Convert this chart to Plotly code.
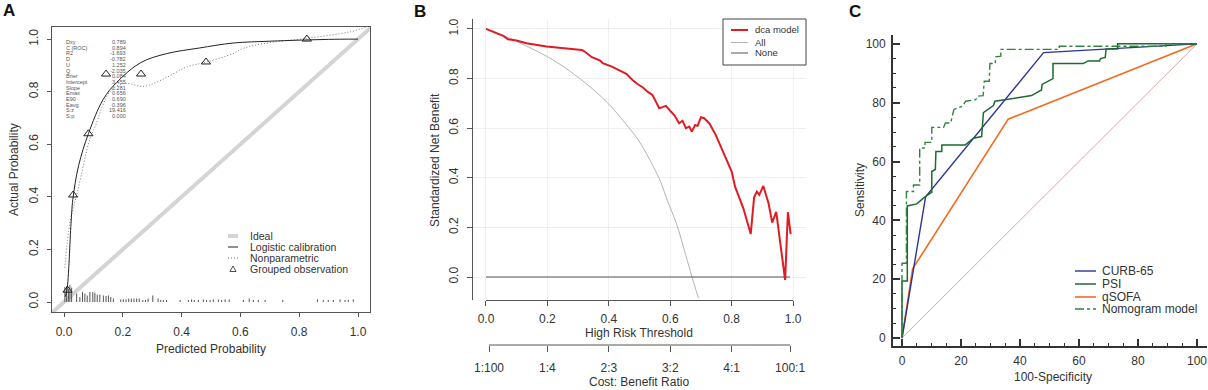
import plotly.graph_objects as go

W, H = 1208, 390
FONT = "Liberation Sans, Arial, sans-serif"

# ---------------- Panel A data (calibration) ----------------
logit_pred = [0.004, 0.01, 0.024, 0.03, 0.05, 0.083, 0.133, 0.179, 0.26, 0.35, 0.46, 0.575, 0.7, 0.8, 0.9, 1.0]
logit_act = [0.02, 0.045, 0.30, 0.39, 0.52, 0.64, 0.77, 0.835, 0.91, 0.945, 0.966, 0.985, 0.992, 0.996, 0.999, 1.0]
np_pred = [0.003, 0.02, 0.048, 0.088, 0.105, 0.156, 0.2, 0.225, 0.26, 0.29, 0.35, 0.42, 0.486, 0.575, 0.61, 0.69, 0.826, 0.97, 1.03]
np_act = [0.13, 0.30, 0.43, 0.62, 0.665, 0.80, 0.83, 0.83, 0.82, 0.825, 0.855, 0.895, 0.913, 0.945, 0.965, 0.985, 1.003, 1.027, 1.046]
grp_pred = [0.012, 0.031, 0.083, 0.143, 0.262, 0.483, 0.826]
grp_act = [0.045, 0.407, 0.64, 0.867, 0.867, 0.913, 1.0]
rug_pred = [0.003, 0.009, 0.015, 0.020, 0.026, 0.043, 0.054, 0.063, 0.071, 0.079, 0.088, 0.098, 0.105,
            0.113, 0.122, 0.134, 0.143, 0.151, 0.159, 0.168, 0.193, 0.202, 0.211, 0.22, 0.229, 0.238,
            0.247, 0.256, 0.268, 0.277, 0.286, 0.302, 0.32, 0.329, 0.338, 0.349, 0.395, 0.423, 0.434,
            0.443, 0.457, 0.474, 0.485, 0.497, 0.508, 0.525, 0.536, 0.548, 0.562, 0.61, 0.63, 0.644,
            0.661, 0.684, 0.744, 0.862, 0.882, 0.899, 0.916, 0.939, 0.956, 0.967, 0.984]
rug_h = [0.057, 0.06, 0.05, 0.065, 0.055, 0.032, 0.019, 0.038, 0.032, 0.025, 0.038, 0.038, 0.035,
         0.028, 0.028, 0.025, 0.023, 0.025, 0.019, 0.013, 0.01, 0.01, 0.01, 0.013, 0.013, 0.013,
         0.013, 0.013, 0.008, 0.008, 0.013, 0.025, 0.013, 0.008, 0.008, 0.008, 0.008, 0.008, 0.01,
         0.008, 0.008, 0.01, 0.008, 0.008, 0.01, 0.01, 0.008, 0.01, 0.01, 0.008, 0.013, 0.008,
         0.008, 0.008, 0.008, 0.01, 0.008, 0.008, 0.008, 0.01, 0.008, 0.008, 0.01]
ideal_xy = [-0.05, 1.05]
prob_ticks = [0, 0.2, 0.4, 0.6, 0.8, 1.0]
stats_labels = ["Dxy", "C (ROC)", "R2", "D", "U", "Q", "Brier", "Intercept", "Slope",
                "Emax", "E90", "Eavg", "S:z", "S:p"]
stats_values = ["0.789", "0.894", "-1.693", "-0.782", "1.252", "-2.035", "0.084", "3.455",
                "1.281", "0.656", "0.690", "0.396", "19.416", "0.000"]
legA_labels = ["Ideal", "Logistic calibration", "Nonparametric", "Grouped observation"]

# ---------------- Panel B data (decision curve) ----------------
dca_thr = [0.0, 0.056, 0.072, 0.099, 0.132, 0.165, 0.197, 0.23, 0.263, 0.285, 0.312, 0.32, 0.345,
           0.372, 0.38, 0.41, 0.457, 0.477, 0.493, 0.51, 0.526, 0.542, 0.564, 0.575, 0.586, 0.602,
           0.613, 0.629, 0.64, 0.651, 0.662, 0.67, 0.681, 0.689, 0.7, 0.71, 0.727, 0.748, 0.765,
           0.776, 0.787, 0.80, 0.811, 0.827, 0.838, 0.849, 0.862, 0.873, 0.882, 0.89, 0.903, 0.92,
           0.932, 0.945, 0.958, 0.966, 0.974, 0.983, 0.992]
dca_nb = [1.0, 0.972, 0.958, 0.953, 0.942, 0.935, 0.929, 0.925, 0.922, 0.918, 0.915, 0.91, 0.886,
          0.872, 0.862, 0.848, 0.819, 0.794, 0.778, 0.765, 0.747, 0.734, 0.68, 0.685, 0.69, 0.667,
          0.653, 0.62, 0.63, 0.6, 0.606, 0.586, 0.613, 0.609, 0.644, 0.64, 0.62, 0.573, 0.525,
          0.492, 0.458, 0.425, 0.364, 0.317, 0.277, 0.23, 0.173, 0.321, 0.344, 0.331, 0.367, 0.297,
          0.219, 0.263, 0.142, 0.069, -0.012, 0.261, 0.173]
all_thr = [0.0, 0.05, 0.1, 0.15, 0.2, 0.25, 0.3, 0.35, 0.4, 0.45, 0.48, 0.5, 0.545, 0.57, 0.59,
           0.62, 0.65, 0.671, 0.692]
all_nb = [1.0, 0.977, 0.95, 0.92, 0.888, 0.85, 0.805, 0.755, 0.697, 0.625, 0.579, 0.545, 0.445,
          0.38, 0.31, 0.216, 0.09, 0.0, -0.086]
none_thr = [0.0, 0.99]
none_nb = [0.0, 0.0]
nb_ticks = [0, 0.2, 0.4, 0.6, 0.8, 1.0]
cb_ticks = [0.0099, 0.2, 0.4, 0.6, 0.8, 0.9901]
cb_labels = ["1:100", "1:4", "2:3", "3:2", "4:1", "100:1"]
legB_labels = ["dca model", "All", "None"]

# ---------------- Panel C data (ROC) ----------------
curb_x = [0, 8, 48, 100]
curb_y = [0, 48, 97, 100]
qsofa_x = [0, 3.6, 36, 100]
qsofa_y = [0, 23.5, 74.4, 100]
psi_x = [0, 0, 1.8, 1.8, 5, 6, 7.8, 9.5, 10.1, 10.1, 11.3, 11.5, 13.5, 13.5, 21.4, 24.2, 27, 27.6,
         29.5, 31, 31.5, 34.4, 43.9, 47.3, 47.5, 51.2, 51.2, 61.4, 63.1, 67, 67.3, 68.9, 69.2, 73.1,
         73.1, 100]
psi_y = [0, 19.4, 19.4, 44.9, 45.6, 46.5, 48, 49.2, 49.5, 56.6, 57.3, 63.4, 63.4, 65.6, 65.6, 67.9,
         68.5, 76.6, 78, 79, 80.5, 81, 82.4, 84.3, 86.2, 88.2, 93.3, 93.3, 94.2, 94.2, 95, 95.4, 98.2,
         98.2, 100, 100]
nomo_x = [0, 0, 1.5, 1.5, 3.9, 3.9, 6, 6, 7.8, 7.8, 10.1, 10.1, 14.1, 14.7, 16.5, 17.6, 20.5, 21.6,
          25, 25.6, 27.5, 27.9, 29.6, 29.8, 31.6, 31.8, 33.5, 33.5, 53.3, 53.3, 89.5, 89.5, 100]
nomo_y = [0, 25.4, 25.4, 49.8, 49.8, 52, 52, 64.6, 64.6, 66.5, 66.5, 71.6, 71.6, 73.1, 73.1, 77.7,
          78.8, 80.5, 81, 82.2, 82.4, 87.3, 87.3, 93.3, 93.3, 95.6, 95.8, 98.1, 98.1, 99.2, 99.2,
          100, 100]
diag_xy = [0, 100]
roc_ticks = [0, 20, 40, 60, 80, 100]
legC_labels = ["CURB-65", "PSI", "qSOFA", "Nomogram model"]

# ---------------- styles ----------------
RED = "#e01b22"
BLUE = "#2c3593"
GREEN = "#1d6b30"
GREEN2 = "#2e8540"
ORANGE = "#f26a21"
AX = "#555555"
TXT = "#333333"
DOT = "1px,2px"


def fx(px):
    return px / W


def fy(py):
    return 1 - py / H


fig = go.Figure()

# ---- Panel A traces ----
fig.add_trace(go.Scatter(x=ideal_xy, y=ideal_xy, mode="lines", line=dict(color="#d4d4d4", width=4),
                         xaxis="x", yaxis="y", showlegend=False, hoverinfo="skip"))
rx, ry = [], []
for p, h in zip(rug_pred, rug_h):
    rx += [p, p, None]
    ry += [0, h, None]
fig.add_trace(go.Scatter(x=rx, y=ry, mode="lines", line=dict(color="#555555", width=1),
                         xaxis="x", yaxis="y", showlegend=False, hoverinfo="skip"))
fig.add_trace(go.Scatter(x=np_pred, y=np_act, mode="lines",
                         line=dict(color="#777777", width=1, dash=DOT, shape="spline"),
                         xaxis="x", yaxis="y", showlegend=False))
fig.add_trace(go.Scatter(x=logit_pred, y=logit_act, mode="lines", line=dict(color="#222222", width=1, shape="spline"),
                         xaxis="x", yaxis="y", showlegend=False))
fig.add_trace(go.Scatter(x=grp_pred, y=grp_act, mode="markers",
                         marker=dict(symbol="triangle-up-open", size=8, color="#222222", line=dict(width=1)),
                         xaxis="x", yaxis="y", showlegend=False))

# ---- Panel B traces ----
fig.add_trace(go.Scatter(x=all_thr, y=all_nb, mode="lines", line=dict(color="#b4b4b4", width=1, shape="spline"),
                         xaxis="x2", yaxis="y2", showlegend=False))
fig.add_trace(go.Scatter(x=none_thr, y=none_nb, mode="lines", line=dict(color="#555555", width=1.2),
                         xaxis="x2", yaxis="y2", showlegend=False))
fig.add_trace(go.Scatter(x=dca_thr, y=dca_nb, mode="lines", line=dict(color=RED, width=2),
                         xaxis="x2", yaxis="y2", showlegend=False))
fig.add_trace(go.Scatter(x=[cb_ticks[2]], y=[0.5], mode="markers", marker=dict(opacity=0),
                         xaxis="x4", yaxis="y2", showlegend=False, hoverinfo="skip"))

# ---- Panel C traces ----
fig.add_trace(go.Scatter(x=diag_xy, y=diag_xy, mode="lines", line=dict(color="#dca4a4", width=1),
                         xaxis="x3", yaxis="y3", showlegend=False))
fig.add_trace(go.Scatter(x=qsofa_x, y=qsofa_y, mode="lines", line=dict(color=ORANGE, width=1.6),
                         xaxis="x3", yaxis="y3", showlegend=False))
fig.add_trace(go.Scatter(x=curb_x, y=curb_y, mode="lines", line=dict(color=BLUE, width=1.4),
                         xaxis="x3", yaxis="y3", showlegend=False))
fig.add_trace(go.Scatter(x=psi_x, y=psi_y, mode="lines", line=dict(color=GREEN, width=1.5),
                         xaxis="x3", yaxis="y3", showlegend=False))
fig.add_trace(go.Scatter(x=nomo_x, y=nomo_y, mode="lines", line=dict(color=GREEN2, width=1.4, dash="dashdot"),
                         xaxis="x3", yaxis="y3", showlegend=False))

tickfont = dict(family=FONT, size=12, color=TXT)

layout = dict(
    width=W, height=H, autosize=False,
    margin=dict(l=0, r=0, t=0, b=0),
    paper_bgcolor="white", plot_bgcolor="white",
    font=dict(family=FONT, color=TXT),
    showlegend=False,
    xaxis=dict(domain=[fx(52), fx(370)], anchor="y", range=[-0.0408, 1.0408],
               tickvals=prob_ticks, tickformat=".1f", ticks="outside", ticklen=4, tickcolor=AX,
               showline=True, mirror=True, linecolor=AX, linewidth=1, showgrid=False, zeroline=False,
               tickfont=tickfont, ticklabelstandoff=5),
    yaxis=dict(domain=[fy(312), fy(27)], anchor="x", range=[-0.038, 1.046],
               tickvals=prob_ticks, tickformat=".1f", ticks="outside", ticklen=4, tickcolor=AX,
               tickangle=-90, showline=True, mirror=True, linecolor=AX, linewidth=1,
               showgrid=False, zeroline=False, tickfont=tickfont, ticklabelstandoff=4),
    xaxis2=dict(domain=[fx(473), fx(806)], anchor="y2", range=[-0.0423, 1.042],
                tickvals=nb_ticks, tickformat=".1f", ticks="outside", ticklen=5, tickcolor=AX,
                showline=False, showgrid=True, gridcolor="#efefef", zeroline=False,
                tickfont=tickfont, ticklabelstandoff=3),
    yaxis2=dict(domain=[fy(300), fy(19)], anchor="x2", range=[-0.0927, 1.040],
                tickvals=nb_ticks, tickformat=".1f", ticks="outside", ticklen=5, tickcolor=AX,
                tickangle=-90, showline=True, linecolor=AX, linewidth=1, showgrid=True,
                gridcolor="#efefef", zeroline=False, tickfont=tickfont, ticklabelstandoff=4),
    xaxis4=dict(overlaying="x2", anchor="free", position=fy(345), side="bottom",
                range=[-0.0423, 1.042], tickvals=cb_ticks, ticktext=cb_labels,
                ticks="outside", ticklen=6, tickcolor=AX, showline=False, showgrid=False,
                zeroline=False, tickfont=tickfont, ticklabelstandoff=6),
    xaxis3=dict(domain=[fx(893), fx(1207)], anchor="y3", range=[-3.05, 103.4],
                tickvals=roc_ticks, ticks="inside", ticklen=7, tickwidth=1.5, tickcolor="#333333",
                minor=dict(ticks="inside", ticklen=3.5, dtick=5, tickwidth=1.2, tickcolor="#333333"),
                showline=True, linecolor="#333333", linewidth=1.8, showgrid=False, zeroline=False,
                tickfont=dict(family=FONT, size=12, color=TXT), ticklabelstandoff=3),
    yaxis3=dict(domain=[fy(346), fy(35)], anchor="x3", range=[-2.7, 103],
                tickvals=roc_ticks, ticks="inside", ticklen=7, tickwidth=1.5, tickcolor="#333333",
                minor=dict(ticks="inside", ticklen=3.5, dtick=5, tickwidth=1.2, tickcolor="#333333"),
                showline=True, linecolor="#333333", linewidth=1.8, showgrid=False, zeroline=False,
                tickfont=dict(family=FONT, size=12, color=TXT), ticklabelstandoff=3),
)

annotations = []
shapes = []


def ann(text, x, y, size=12, xanchor="center", yanchor="middle", angle=0, bold=False, color=TXT):
    annotations.append(dict(text=f"<b>{text}</b>" if bold else text, x=fx(x), y=fy(y),
                            xref="paper", yref="paper", showarrow=False, xanchor=xanchor,
                            yanchor=yanchor, textangle=angle,
                            font=dict(family=FONT, size=size, color=color)))


# panel labels
ann("A", 9, 10, size=17, bold=True, color="#111111")
ann("B", 420, 11, size=17, bold=True, color="#111111")
ann("C", 855, 11, size=17, bold=True, color="#111111")

# axis titles
ann("Predicted Probability", 211, 349)
ann("Actual Probability", 14, 170, angle=-90)
ann("High Risk Threshold", 639, 333)
ann("Standardized Net Benefit", 435, 160, angle=-90)
ann("Cost: Benefit Ratio", 639, 382)
ann("100-Specificity", 1053, 377)
ann("Sensitivity", 860, 190, angle=-90)

# stats text in panel A
for i, (lab, val) in enumerate(zip(stats_labels, stats_values)):
    ann(lab, 64, 42 + i * 5.7, size=5.5, xanchor="left", color="#555555")
    ann(val, 128, 42 + i * 5.7, size=5.5, xanchor="right", color="#555555")

# legend A
rowsA = [236, 247, 258, 269]
shapes.append(dict(type="line", xref="paper", yref="paper", x0=fx(228), x1=fx(238), y0=fy(rowsA[0]), y1=fy(rowsA[0]),
                   line=dict(color="#d4d4d4", width=4)))
shapes.append(dict(type="line", xref="paper", yref="paper", x0=fx(228), x1=fx(238), y0=fy(rowsA[1]), y1=fy(rowsA[1]),
                   line=dict(color="#222222", width=1)))
shapes.append(dict(type="line", xref="paper", yref="paper", x0=fx(228), x1=fx(238), y0=fy(rowsA[2]), y1=fy(rowsA[2]),
                   line=dict(color="#777777", width=1, dash=DOT)))
shapes.append(dict(type="path", xref="paper", yref="paper",
                   path=f"M {fx(230)} {fy(rowsA[3] + 2.5)} L {fx(236)} {fy(rowsA[3] + 2.5)} L {fx(233)} {fy(rowsA[3] - 3)} Z",
                   line=dict(color="#222222", width=0.8)))
for lab, r in zip(legA_labels, rowsA):
    ann(lab, 248, r, size=10.5, xanchor="left")

# legend B
shapes.append(dict(type="rect", xref="paper", yref="paper", x0=fx(723), x1=fx(806), y0=fy(65), y1=fy(19),
                   line=dict(color="#444444", width=1), fillcolor="white", layer="above"))
rowsB = [30, 42.5, 53]
stylesB = [dict(color=RED, width=2), dict(color="#b4b4b4", width=1), dict(color="#555555", width=1)]
for lab, r, st in zip(legB_labels, rowsB, stylesB):
    shapes.append(dict(type="line", xref="paper", yref="paper", x0=fx(731), x1=fx(748), y0=fy(r), y1=fy(r),
                       line=st, layer="above"))
    ann(lab, 753, r, size=9.5, xanchor="left")

# x axis line of panel B (spans 0..1) and cost-benefit axis line
shapes.append(dict(type="line", xref="x2", yref="paper", x0=nb_ticks[0], x1=nb_ticks[-1], y0=fy(300.5), y1=fy(300.5),
                   line=dict(color=AX, width=1)))
shapes.append(dict(type="line", xref="x2", yref="paper", x0=cb_ticks[0], x1=cb_ticks[-1], y0=fy(345), y1=fy(345),
                   line=dict(color=AX, width=1)))

# legend C
rowsC = [271, 284, 297, 309]
stylesC = [dict(color=BLUE, width=1.4), dict(color=GREEN, width=1.5), dict(color=ORANGE, width=1.6),
           dict(color=GREEN2, width=1.4, dash="dashdot")]
for lab, r, st in zip(legC_labels, rowsC, stylesC):
    shapes.append(dict(type="line", xref="paper", yref="paper", x0=fx(1075), x1=fx(1096), y0=fy(r), y1=fy(r), line=st))
    ann(lab, 1100, r, size=12, xanchor="left")

layout["annotations"] = annotations
layout["shapes"] = shapes
fig.update_layout(**layout)
fig.write_html("out.html", config={"displayModeBar": False},
               post_script="document.body.style.margin='0px';document.body.style.overflow='hidden';")
